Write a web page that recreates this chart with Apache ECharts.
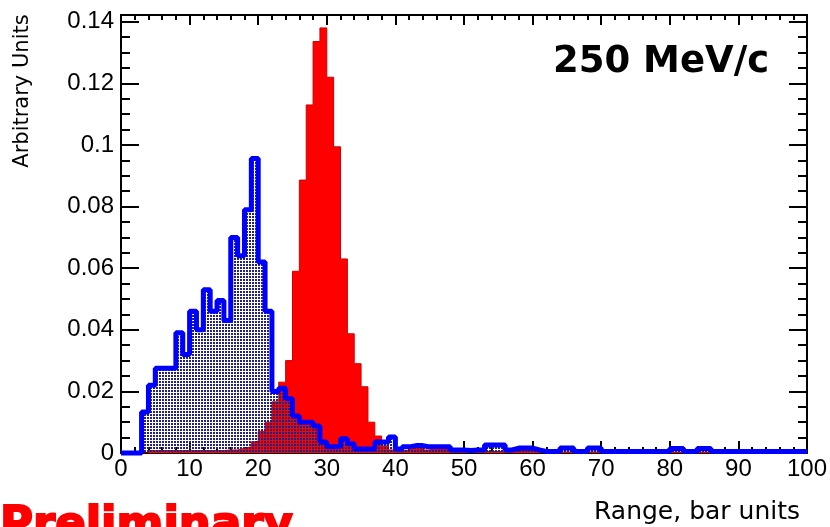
<!DOCTYPE html>
<html><head><meta charset="utf-8">
<script src="https://cdn.jsdelivr.net/npm/echarts@6/dist/echarts.min.js"></script>
<style>html,body{margin:0;padding:0;background:#fff}#c{width:830px;height:527px}</style>
</head><body><div id="c"></div>
<script>
// Histogram bins: 1 unit wide, left edges 0..99 (plus closing edge 100)
const binEdges = Array.from({length: 101}, (_, i) => i);

// Blue (dotted) histogram, per bin
const blueValues = [
  0, 0, 0, 0.0133, 0.022, 0.0275, 0.0275, 0.0275, 0.039, 0.032,
  0.046, 0.040, 0.053, 0.046, 0.0495, 0.043, 0.070, 0.064, 0.079, 0.0956,
  0.062, 0.046, 0.020, 0.021, 0.0176, 0.012, 0.010, 0.010, 0.0088, 0.0036,
  0.002, 0.002, 0.0046, 0.003, 0.0013, 0.0013, 0.0013, 0.0036, 0.0036, 0.0052,
  0.0013, 0.002, 0.0024, 0.0024, 0.002, 0.002, 0.002, 0.002, 0.001, 0.001,
  0.0008, 0.001, 0.001, 0.0026, 0.0026, 0.0026, 0.001, 0.0016, 0.0016, 0.0016,
  0.001, 0.0005, 0.0005, 0.0005, 0.0016, 0.0016, 0.0005, 0.0005, 0.0016, 0.0016,
  0.0005, 0.0005, 0.0005, 0.0005, 0.0005, 0.0005, 0.0005, 0.0005, 0.0005, 0.0005,
  0.0015, 0.0015, 0.0005, 0.0005, 0.0015, 0.0015, 0.0005, 0.0005, 0.0005, 0.0005,
  0.0005, 0.0005, 0.0005, 0.0005, 0.0005, 0.0005, 0.0005, 0.0005, 0.0005, 0.0005
];

// Red (filled) histogram, per bin
const redValues = [
  0, 0, 0, 0, 0.0008, 0.0008, 0.0008, 0.0008, 0.0008, 0.0008,
  0.0008, 0.0008, 0.0008, 0.0008, 0.0008, 0.001, 0.001, 0.0015, 0.002, 0.0036,
  0.007, 0.010, 0.0166, 0.023, 0.030, 0.059, 0.0886, 0.113, 0.1336, 0.138,
  0.122, 0.0994, 0.063, 0.0387, 0.029, 0.0215, 0.010, 0.0055, 0.0023, 0.001,
  0.0008, 0.0008, 0.0024, 0.0024, 0.001, 0.0016, 0.0016, 0.0016, 0.001, 0.0005,
  0.0005, 0.0005, 0.0005, 0.0005, 0.0005, 0.0005, 0.0005, 0.0005, 0.002, 0.002,
  0.001, 0.0003, 0.0003, 0.0003, 0.0003, 0.0003, 0.0003, 0.0003, 0.0003, 0.0003,
  0.0003, 0.0003, 0.0003, 0.0003, 0.0003, 0.0003, 0.0003, 0.0003, 0.0003, 0.0003,
  0.0003, 0.0003, 0.0003, 0.0003, 0.0003, 0.0003, 0.0003, 0.0003, 0.0003, 0.0003,
  0.0003, 0.0003, 0.0003, 0.0003, 0.0003, 0.0003, 0.0003, 0.0003, 0.0003, 0.0003
];

const xTickLabels = ['0','10','20','30','40','50','60','70','80','90','100'];
const yTickValues = [0, 0.02, 0.04, 0.06, 0.08, 0.1, 0.12, 0.14];
const yTickLabels = ['0','0.02','0.04','0.06','0.08','0.1','0.12','0.14'];
const X_MIN = 0, X_MAX = 100, Y_MAX = 0.1422;

const titleText = '250 MeV/c';
const xTitle = 'Range, bar units';
const yTitle = 'Arbitrary Units';
const stamp = 'Preliminary';

function toSteps(vals) {
  return binEdges.map((x, i) => [x, vals[Math.min(i, vals.length - 1)]]);
}

function dotPattern() {
  const c = document.createElement('canvas');
  c.width = 3; c.height = 3;
  const g = c.getContext('2d');
  g.fillStyle = '#22227a';
  g.fillRect(0, 0, 2, 2);
  return c;
}

const black = {color: '#000', width: 2};
const chart = echarts.init(document.getElementById('c'), null, {renderer: 'canvas'});

function yAx(pos, interval, len, labels) {
  return {
    type: 'value', position: pos, min: 0, max: Y_MAX, interval: interval,
    axisLine: {show: labels !== null, lineStyle: black},
    axisTick: {show: true, inside: true, length: len, lineStyle: black},
    splitLine: {show: false},
    axisLabel: labels ? {
      show: true, color: '#000', fontSize: 24, fontFamily: 'Liberation Sans', margin: 7,
      formatter: function (v) {
        for (let i = 0; i < yTickValues.length; i++) {
          if (Math.abs(v - yTickValues[i]) < 1e-6) return yTickLabels[i];
        }
        return '';
      }
    } : {show: false}
  };
}

const option = {
  animation: false,
  backgroundColor: '#fff',
  grid: {left: 121, right: 22, top: 15, bottom: 74, show: true, borderColor: '#000', borderWidth: 2},
  xAxis: [
    {
      type: 'value', position: 'bottom', min: X_MIN, max: X_MAX, interval: 10,
      axisLine: {show: true, onZero: false, lineStyle: black},
      axisTick: {show: true, inside: true, length: 12, lineStyle: black},
      minorTick: {show: true, splitNumber: 5, length: 6, lineStyle: black},
      splitLine: {show: false},
      axisLabel: {
        color: '#000', fontSize: 24, fontFamily: 'Liberation Sans', margin: 4,
        formatter: function (v) { return xTickLabels[Math.round(v / 10)] || ''; }
      }
    },
    {
      type: 'value', position: 'top', min: X_MIN, max: X_MAX, interval: 10,
      axisLine: {show: true, onZero: false, lineStyle: black},
      axisTick: {show: true, inside: true, length: 10, lineStyle: black},
      minorTick: {show: true, splitNumber: 5, length: 5, lineStyle: black},
      splitLine: {show: false},
      axisLabel: {show: false}
    }
  ],
  yAxis: [
    yAx('left', 0.02, 18, true),
    yAx('left', 0.005, 9, null),
    yAx('right', 0.02, 18, false),
    yAx('right', 0.005, 9, null)
  ],
  series: [
    {
      name: 'red', type: 'line', xAxisIndex: 0, yAxisIndex: 0, step: 'end', symbol: 'none',
      data: toSteps(redValues), z: 2,
      lineStyle: {color: '#d00000', width: 1},
      areaStyle: {color: '#ff0000', opacity: 1}
    },
    {
      name: 'blue', type: 'line', xAxisIndex: 0, yAxisIndex: 0, step: 'end', symbol: 'none',
      data: toSteps(blueValues), z: 3, clip: false,
      lineStyle: {color: '#0000ff', width: 5},
      areaStyle: {color: {image: dotPattern(), repeat: 'repeat'}, opacity: 1}
    }
  ],
  graphic: [
    {type: 'text', x: 553, y: 62, z: 10, style: {text: titleText, fill: '#000', font: 'bold 37px "DejaVu Sans"', align: 'left', verticalAlign: 'middle'}},
    {type: 'text', x: 697, y: 512, z: 10, style: {text: xTitle, fill: '#000', font: '25px "DejaVu Sans"', align: 'center', verticalAlign: 'middle'}},
    {type: 'text', x: 23, y: 91, rotation: Math.PI / 2, z: 10, style: {text: yTitle, fill: '#000', font: '21px "DejaVu Sans"', align: 'center', verticalAlign: 'middle'}},
    {type: 'text', x: 0, y: 526, z: 10, style: {text: stamp, fill: '#ff0000', font: 'bold 45px "DejaVu Sans"', align: 'left', verticalAlign: 'middle', stroke: '#ff0000', lineWidth: 2}}
  ]
};
chart.setOption(option);
</script>
</body></html>
